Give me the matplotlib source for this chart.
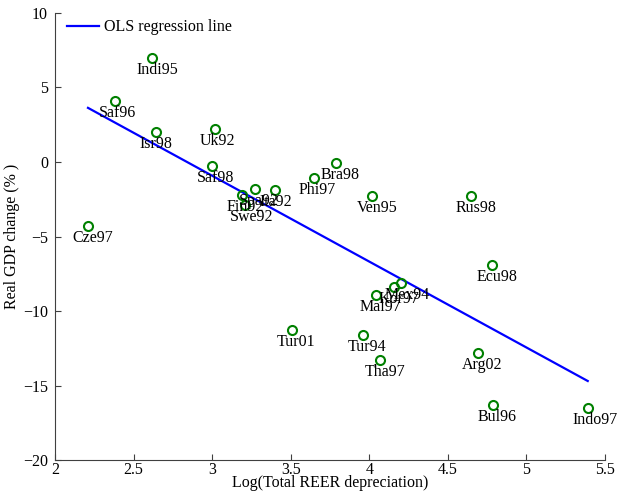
import matplotlib
matplotlib.use("Agg")
import matplotlib.pyplot as plt
import numpy as np

plt.rcParams['font.family'] = ['Liberation Serif', 'DejaVu Serif']

# country/crisis labels, log total REER depreciation, real GDP change (%)
labels = ['Indi95', 'Saf96', 'Isr98', 'Uk92', 'Saf98', 'Cze97', 'Fin92', 'Spa92',
          'Ita92', 'Swe92', 'Phi97', 'Bra98', 'Ven95', 'Rus98', 'Ecu98', 'Mex94',
          'Kor97', 'Mal97', 'Tur01', 'Tur94', 'Tha97', 'Arg02', 'Bul96', 'Indo97']
reer = [2.62, 2.38, 2.64, 3.02, 3.00, 2.21, 3.19, 3.27,
        3.40, 3.21, 3.65, 3.79, 4.02, 4.65, 4.78, 4.20,
        4.16, 4.04, 3.51, 3.96, 4.07, 4.69, 4.79, 5.39]
gdp = [7.0, 4.1, 2.0, 2.2, -0.3, -4.3, -2.2, -1.8,
       -1.9, -2.9, -1.1, -0.1, -2.3, -2.3, -6.9, -8.1,
       -8.4, -8.9, -11.3, -11.6, -13.3, -12.8, -16.3, -16.5]

x = np.array(reer)
y = np.array(gdp)
slope, intercept = np.polyfit(x, y, 1)
xl = np.array([x.min(), x.max()])

fig = plt.figure(figsize=(6.22, 4.94), dpi=100)
ax = fig.add_axes([0.0884, 0.0688, 0.8843, 0.9049])

ax.plot(xl, intercept + slope * xl, color='#0000ff', lw=1.6, label='OLS regression line')
ax.plot(x, y, 'o', mfc='none', mec='#008000', mew=1.5, ms=6.5)
for lab, xi, yi in zip(labels, reer, gdp):
    ax.text(xi - 0.1, yi - 0.8, lab, ha='left', va='center', fontsize=11.5)

ax.set_xlim(2, 5.5)
ax.set_ylim(-20, 10)
ax.set_xticks(np.arange(2, 5.51, 0.5))
ax.set_xticklabels(['2', '2.5', '3', '3.5', '4', '4.5', '5', '5.5'])
ax.set_yticks(np.arange(-20, 11, 5))
ax.set_yticklabels(['\u221220', '\u221215', '\u221210', '\u22125', '0', '5', '10'])
ax.tick_params(direction='in', length=4, labelsize=11.5, color='#404040')
ax.tick_params(axis='y', pad=5)
ax.tick_params(axis='x', pad=1.5)
for s in ['top', 'right']:
    ax.spines[s].set_visible(False)
for s in ['left', 'bottom']:
    ax.spines[s].set_color('#404040')
ax.set_xlabel('Log(Total REER depreciation)', fontsize=11.5, labelpad=-2)
ax.set_ylabel('Real GDP change (% )', fontsize=11.5, labelpad=2)
ax.legend(loc='upper left', frameon=False, fontsize=11.5, handlelength=2.0,
          borderaxespad=0.1, borderpad=0.3, handletextpad=0.3,
          bbox_to_anchor=(0.01, 1.0))

fig.savefig('out.png', dpi=100)
